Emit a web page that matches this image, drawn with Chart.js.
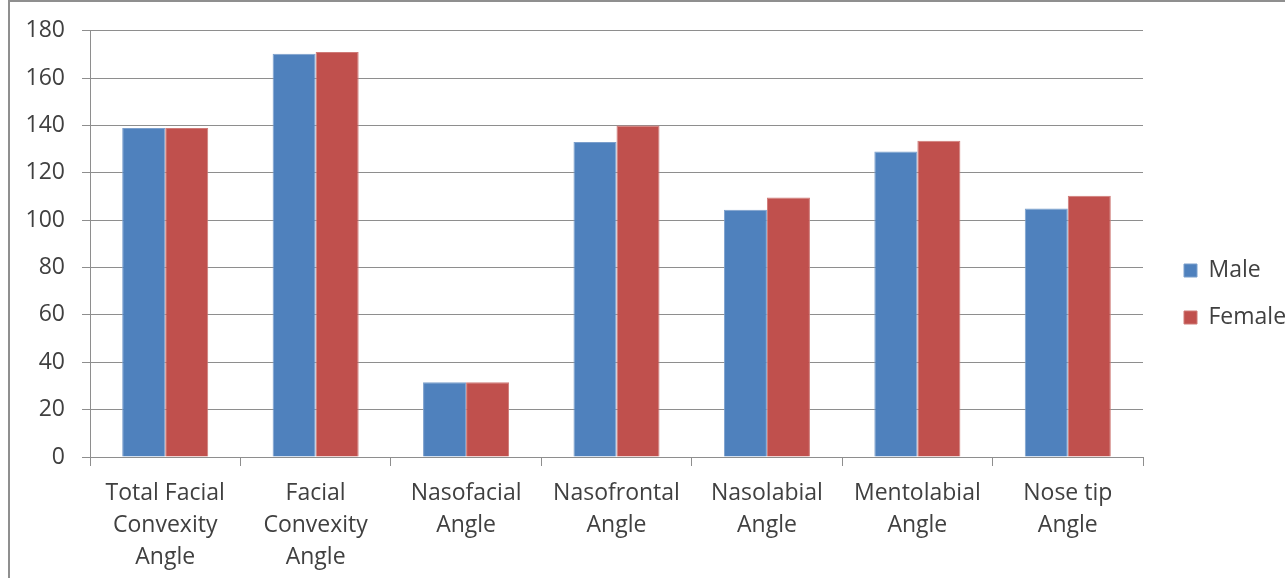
<!DOCTYPE html>
<html>
<head>
<meta charset="utf-8">
<title>Facial angles by sex</title>
<script src="https://cdn.jsdelivr.net/npm/chart.js@4/dist/chart.umd.min.js"></script>
<style>
    html, body { margin: 0; padding: 0; background: #fff; overflow: hidden; }
    #wrap { position: relative; width: 1285px; height: 578px; }
    #frame {
        position: absolute; left: 8px; top: 0; right: -4px; bottom: -4px;
        border-left: 2px solid #8f8f8f; border-top: 2px solid #8f8f8f;
        pointer-events: none;
    }
    canvas { display: block; }
</style>
</head>
<body>
<div id="wrap">
    <canvas id="chart" width="1285" height="578"></canvas>
    <div id="frame"></div>
</div>
<script>
const categories = [
    ['Total Facial', 'Convexity', 'Angle'],
    ['Facial', 'Convexity', 'Angle'],
    ['Nasofacial', 'Angle'],
    ['Nasofrontal', 'Angle'],
    ['Nasolabial', 'Angle'],
    ['Mentolabial', 'Angle'],
    ['Nose tip', 'Angle']
];
const seriesNames = ['Male', 'Female'];
const maleValues = [139, 170.3, 31.6, 133, 104.4, 129, 105];
const femaleValues = [139, 171, 31.6, 140, 109.6, 133.6, 110.3];
const yTicks = [0, 20, 40, 60, 80, 100, 120, 140, 160, 180];

const gridGray = '#8e8e8e';
const textColor = '#404040';
const fontFamily = '"Open Sans", Lato, sans-serif';
const fontSize = 23;

const ctx = document.getElementById('chart');

// legend sits at a fixed spot, so work out its width from the widest label
const legendPad = 24;
const legendBox = 13;
const legendLeft = 1160;
const measure = ctx.getContext('2d');
measure.font = `${fontSize}px ${fontFamily}`;
const widestLabel = Math.max(...seriesNames.map(n => measure.measureText(n).width));
const legendWidth = legendBox + fontSize / 2 + widestLabel + legendPad + 10;
const rightPad = 1285 - (legendLeft + legendWidth);

// empty axes used only as spacers around the plot area
const spacer = size => ({
    type: 'linear',
    display: true,
    grid: { display: false },
    border: { display: false },
    ticks: { display: false },
    afterFit: scale => {
        if (scale.isHorizontal()) scale.height = size; else scale.width = size;
    }
});

new Chart(ctx, {
    type: 'bar',
    data: {
        labels: categories,
        datasets: [
            {
                label: seriesNames[0],
                data: maleValues,
                backgroundColor: '#4f81bd',
                borderColor: '#7b9fcc',
                borderWidth: 1,
                categoryPercentage: 0.572,
                barPercentage: 1
            },
            {
                label: seriesNames[1],
                data: femaleValues,
                backgroundColor: '#c0504d',
                borderColor: '#cf7a77',
                borderWidth: 1,
                categoryPercentage: 0.572,
                barPercentage: 1
            }
        ]
    },
    options: {
        responsive: false,
        animation: false,
        layout: {
            padding: { top: 10, left: 0, bottom: 0, right: rightPad }
        },
        scales: {
            x: {
                grid: {
                    display: true,
                    drawOnChartArea: false,
                    drawTicks: true,
                    tickLength: 9,
                    color: gridGray,
                    offset: true
                },
                border: { display: true, color: gridGray, width: 1 },
                ticks: {
                    color: textColor,
                    font: { family: fontFamily, size: fontSize, lineHeight: 1.38 },
                    padding: 12,
                    maxRotation: 0,
                    autoSkip: false
                },
                afterFit: scale => { scale.height = 121; }
            },
            y: {
                min: 0,
                max: 180,
                afterBuildTicks: scale => {
                    scale.ticks = yTicks.map(v => ({ value: v }));
                },
                grid: {
                    color: gridGray,
                    lineWidth: 1,
                    drawTicks: true,
                    tickLength: 8
                },
                border: { display: true, color: gridGray, width: 1 },
                ticks: {
                    color: textColor,
                    font: { family: fontFamily, size: fontSize },
                    padding: 17
                },
                afterFit: scale => { scale.width = 90; }
            },
            gapRight: { ...spacer(17), position: 'right' },
            gapTop: { ...spacer(19), position: 'top' }
        },
        plugins: {
            legend: {
                position: 'right',
                labels: {
                    color: textColor,
                    font: { family: fontFamily, size: fontSize },
                    boxWidth: legendBox,
                    boxHeight: legendBox,
                    padding: legendPad
                }
            },
            tooltip: { enabled: false }
        }
    }
});
</script>
</body>
</html>
